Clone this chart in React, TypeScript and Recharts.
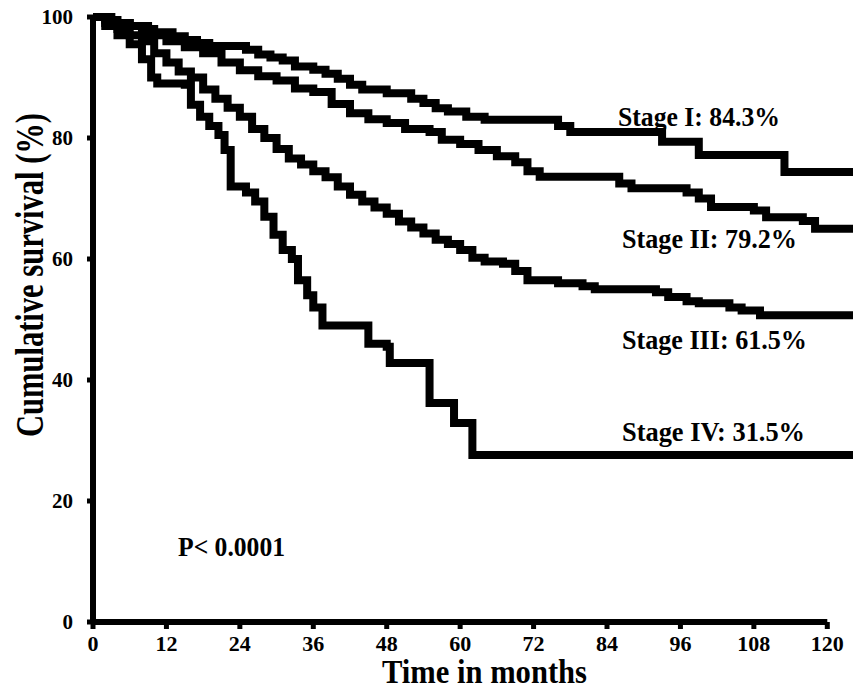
import { LineChart, Line, XAxis, YAxis, ReferenceLine } from 'recharts'

// Kaplan-Meier estimates (months, % surviving)
const stageITime = [0, 2, 4, 6, 8, 10, 13, 15, 17, 19, 25, 27, 29, 31, 33, 36, 38, 40, 42, 44, 48, 52, 54, 56, 58, 61, 64, 76, 78, 93, 99, 113, 124.2]
const stageIValue = [100, 99.5, 99, 98.5, 98, 97.5, 96.8, 96.2, 95.7, 95.2, 94.6, 93.8, 93.3, 92.8, 91.8, 91.3, 90.6, 89.8, 88.8, 88, 87.4, 86.5, 85.8, 84.9, 84.4, 83.5, 83, 82, 81, 79.4, 77.2, 74.4, 74.4]

const stageIITime = [0, 3, 6, 9, 12, 15, 18, 21, 24, 27, 30, 33, 36, 39, 42, 45, 48, 51, 55, 57, 60, 63, 66, 69, 71, 73, 86, 88, 97, 99, 101, 108, 110, 116, 118, 124.2]
const stageIIValue = [100, 99, 98.5, 97, 96, 95, 94, 92.5, 91.2, 90.2, 89.5, 88.2, 87.6, 85.6, 84.1, 83.1, 82.5, 81.5, 81, 79.7, 79, 78, 77, 76, 74.5, 73.6, 72.5, 71.7, 71, 70, 68.6, 68, 66.9, 66.3, 65, 64.8]

const stageIIITime = [0, 2, 4, 6, 8, 10, 12, 14, 16, 18, 20, 22, 24, 26, 28, 30, 32, 34, 36, 38, 40, 42, 44, 46, 48, 50, 52, 54, 56, 58, 60, 62, 64, 67, 69, 71, 76, 80, 82, 92, 94, 97, 99, 104, 106, 109, 124.2]
const stageIIIValue = [100, 99, 98, 97, 96, 94, 92.5, 91, 90, 88, 86.5, 85, 83.5, 81.5, 80, 78.2, 76.6, 75.6, 74.5, 73.5, 72, 70.6, 69.5, 68.5, 67.5, 66.2, 65.2, 64.2, 63.2, 62.5, 61.5, 60.2, 59.6, 59.2, 58, 56.5, 56, 55.5, 55, 54.5, 53.7, 53, 52.7, 52, 51.5, 50.7, 50.7]

const stageIVTime = [0, 2, 4, 6, 8, 9.5, 10.5, 15, 16, 17.5, 19, 20.5, 21.5, 22.5, 25, 26.5, 28, 29.5, 31, 32.5, 33.5, 35, 36, 37.5, 45, 48, 48.5, 54, 55, 58.5, 59, 61.5, 62, 124.2]
const stageIVValue = [100, 98.5, 97, 95.5, 93, 90, 89, 88.8, 85.5, 83.5, 82, 80.5, 78, 72, 71, 69.5, 67, 64, 61.5, 60, 56.5, 54, 52, 49, 46, 45.5, 42.8, 42.8, 36.2, 36.2, 32.9, 32.9, 27.6, 27.6]

const xTicks = [0, 12, 24, 36, 48, 60, 72, 84, 96, 108, 120]
const yTicks = [0, 20, 40, 60, 80, 100]
const stageLabels = ['Stage I: 84.3%', 'Stage II: 79.2%', 'Stage III: 61.5%', 'Stage IV: 31.5%']
const pValueText = 'P< 0.0001'
const xTitle = 'Time in months'
const yTitle = 'Cumulative survival (%)'

const toPoints = (t: number[], v: number[]) => t.map((m, i) => ({ m, s: v[i] }))

const font = '"Liberation Serif", "Times New Roman", serif'
const tickStyle = { fill: '#000', fontSize: 21, fontWeight: 'bold', fontFamily: font }
const xTickStyle = { ...tickStyle, fontSize: 22 }
const textStyle = { fontFamily: font, fontWeight: 'bold' as const }

const series = [
  toPoints(stageITime, stageIValue),
  toPoints(stageIITime, stageIIValue),
  toPoints(stageIIITime, stageIIIValue),
  toPoints(stageIVTime, stageIVValue),
]

export default function App() {
  return (
    <div style={{ position: 'absolute', left: 0, top: 0, background: '#fff' }}>
      <LineChart width={853} height={691} margin={{ top: 17, right: 0, bottom: 0, left: 33 }}>
        <XAxis
          type="number"
          dataKey="m"
          domain={[0, 124.2]}
          ticks={xTicks}
          axisLine={false}
          tickLine={{ stroke: '#000', strokeWidth: 5 }}
          tickSize={7}
          tickMargin={6}
          height={69}
          tick={xTickStyle}
          interval={0}
        />
        <YAxis
          type="number"
          domain={[0, 100]}
          ticks={yTicks}
          width={60}
          axisLine={{ stroke: '#000', strokeWidth: 6 }}
          tickLine={{ stroke: '#000', strokeWidth: 5 }}
          tickSize={6}
          tickMargin={14}
          tick={tickStyle}
          interval={0}
        />
        <ReferenceLine
          segment={[{ x: 0, y: 0 }, { x: 120, y: 0 }]}
          stroke="#000"
          strokeWidth={6}
          ifOverflow="visible"
        />
        {series.map((d, i) => (
          <Line
            key={i}
            data={d}
            dataKey="s"
            type="stepAfter"
            stroke="#000"
            strokeWidth={8}
            dot={false}
            isAnimationActive={false}
          />
        ))}
        <text x={618} y={126} fontSize={27} textLength={162} lengthAdjust="spacingAndGlyphs" style={textStyle}>{stageLabels[0]}</text>
        <text x={622} y={248} fontSize={27} textLength={175} lengthAdjust="spacingAndGlyphs" style={textStyle}>{stageLabels[1]}</text>
        <text x={622} y={349} fontSize={27} textLength={185} lengthAdjust="spacingAndGlyphs" style={textStyle}>{stageLabels[2]}</text>
        <text x={622} y={441} fontSize={27} textLength={183} lengthAdjust="spacingAndGlyphs" style={textStyle}>{stageLabels[3]}</text>
        <text x={178} y={556} fontSize={27} textLength={107} lengthAdjust="spacingAndGlyphs" style={textStyle}>{pValueText}</text>
        <text x={382} y={683} fontSize={33} textLength={205} lengthAdjust="spacingAndGlyphs" style={textStyle}>{xTitle}</text>
        <text
          x={43}
          y={437}
          fontSize={41}
          textLength={324}
          lengthAdjust="spacingAndGlyphs"
          transform="rotate(-90 43 437)"
          style={textStyle}
        >
          {yTitle}
        </text>
      </LineChart>
    </div>
  )
}
